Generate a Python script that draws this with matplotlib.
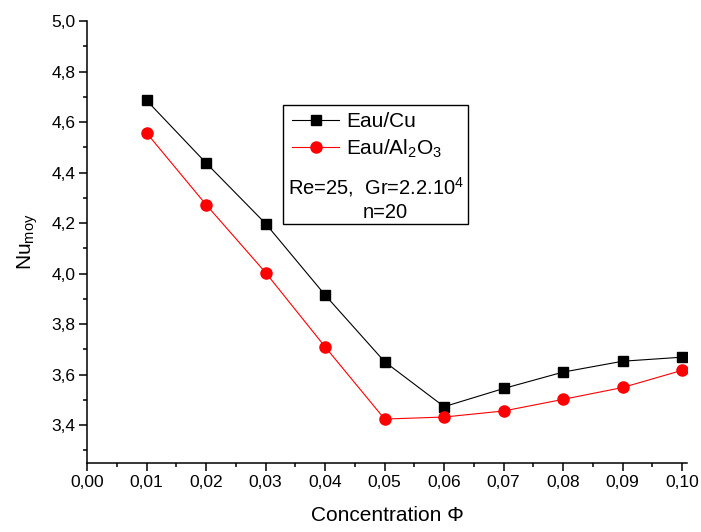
import matplotlib
matplotlib.use("Agg")
import matplotlib.pyplot as plt
from matplotlib.ticker import MultipleLocator, FuncFormatter
from matplotlib.lines import Line2D
from matplotlib.patches import Rectangle

plt.rcParams['font.family'] = ['Liberation Sans', 'DejaVu Sans']
plt.rcParams['mathtext.fontset'] = 'custom'
plt.rcParams['mathtext.rm'] = 'Liberation Sans'
plt.rcParams['mathtext.it'] = 'Liberation Sans'

# Volume fraction of nanoparticles
phi = [0.01, 0.02, 0.03, 0.04, 0.05, 0.06, 0.07, 0.08, 0.09, 0.10]
# Mean Nusselt number for each nanofluid
nu_cu = [4.686, 4.438, 4.198, 3.915, 3.651, 3.473, 3.545, 3.610, 3.653, 3.669]
nu_al2o3 = [4.557, 4.273, 4.004, 3.710, 3.424, 3.432, 3.456, 3.502, 3.549, 3.617]

label_cu = "Eau/Cu"
label_al = r"Eau/Al$_{\mathregular{2}}$O$_{\mathregular{3}}$"
note_line1 = r"Re=25,  Gr=2.2.10$^{\mathregular{4}}$"
note_line2 = "n=20"

W, H = 701, 532
fig = plt.figure(figsize=(W / 100, H / 100), dpi=100)
ax = fig.add_axes([87 / W, 1 - 463 / H, 600 / W, 442 / H])

ax.plot(phi, nu_cu, color="black", lw=0.8, marker="s", ms=7.2,
        mfc="black", mec="black", label=label_cu)
ax.plot(phi, nu_al2o3, color="red", lw=0.8, marker="o", ms=8,
        mfc="red", mec="red", label=label_al)

ax.set_xlim(0.0, 0.1008)
ax.set_ylim(3.25, 5.0)
ax.xaxis.set_major_locator(MultipleLocator(0.01))
ax.xaxis.set_minor_locator(MultipleLocator(0.005))
ax.yaxis.set_major_locator(MultipleLocator(0.2))
ax.yaxis.set_minor_locator(MultipleLocator(0.1))
ax.xaxis.set_major_formatter(FuncFormatter(lambda v, p: f"{v:.2f}".replace(".", ",")))
ax.yaxis.set_major_formatter(FuncFormatter(lambda v, p: f"{v:.1f}".replace(".", ",")))

for s in ("top", "right"):
    ax.spines[s].set_visible(False)
for s in ("left", "bottom"):
    ax.spines[s].set_linewidth(1.1)
ax.tick_params(which="major", direction="out", length=5.5, width=1.1, labelsize=12.5, pad=3)
ax.tick_params(which="minor", direction="out", length=2.8, width=1.1)

ax.set_xlabel("Concentration \u03a6", fontsize=15, labelpad=12)
ax.set_ylabel(r"Nu$_{\mathregular{moy}}$", fontsize=15, labelpad=8)

# Boxed legend with the flow parameters
box = Rectangle((283 / W, 1 - 224 / H), 185 / W, 119 / H, transform=fig.transFigure,
                fill=False, ec="black", lw=1.0, zorder=5)
fig.add_artist(box)
handles = [Line2D([], [], color="black", lw=0.8, marker="s", ms=7.2),
           Line2D([], [], color="red", lw=0.8, marker="o", ms=8)]
leg = ax.legend(handles, [label_cu, label_al], loc="upper left",
                bbox_to_anchor=(292 / W, 1 - 112 / H), bbox_transform=fig.transFigure,
                frameon=False, fontsize=15, handlelength=2.26, handletextpad=0.34,
                labelspacing=0.3, borderaxespad=0, borderpad=0)
fig.text(376 / W, 1 - 187 / H, note_line1, ha="center", va="center", fontsize=14.5)
fig.text(385 / W, 1 - 213 / H, note_line2, ha="center", va="center", fontsize=14.5)

fig.savefig("out.png", dpi=100)
